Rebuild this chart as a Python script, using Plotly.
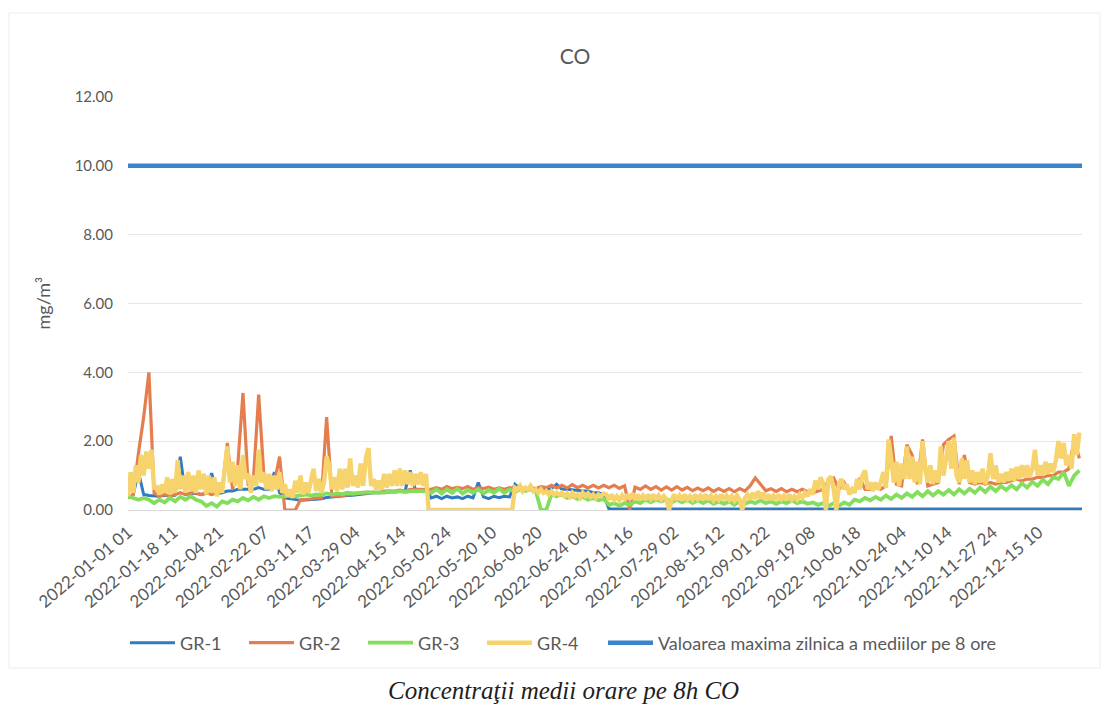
import plotly.graph_objects as go
from datetime import datetime, timedelta

# ---------------- data ----------------
tick_labels = ["2022-01-01 01", "2022-01-18 11", "2022-02-04 21", "2022-02-22 07",
               "2022-03-11 17", "2022-03-29 04", "2022-04-15 14", "2022-05-02 24",
               "2022-05-20 10", "2022-06-06 20", "2022-06-24 06", "2022-07-11 16",
               "2022-07-29 02", "2022-08-15 12", "2022-09-01 22", "2022-09-19 08",
               "2022-10-06 18", "2022-10-24 04", "2022-11-10 14", "2022-11-27 24",
               "2022-12-15 10"]

series_names = ["GR-1", "GR-2", "GR-3", "GR-4",
                "Valoarea maxima zilnica a mediilor pe 8 ore"]

# day offsets from 2022-01-01 01 (daily grid for GR-4, 2-day grid for the others)
days_daily = list(range(0, 365))
days_2d = list(range(0, 365, 2))

gr4 = [
    0.4, 1.1, 0.5, 1.3, 0.8, 1.6, 1.0, 1.7, 1.2, 1.75, 0.6, 0.7, 0.45, 0.75, 0.5, 0.95, 0.45, 0.9, 0.5, 1.45,
    0.6, 1.0, 0.5, 1.1, 0.55, 1.0, 0.5, 1.15, 0.6, 1.05, 0.45, 1.0, 0.5, 0.95, 0.4, 0.8, 0.5, 1.1, 1.85, 0.8,
    1.4, 0.7, 1.3, 0.6, 1.6, 0.9, 1.05, 0.5, 1.0, 0.7, 1.75, 0.8, 1.1, 0.6, 1.05, 0.55, 1.0, 0.6, 1.1, 0.5,
    0.75, 0.4, 0.6, 0.35, 0.85, 0.5, 1.0, 0.45, 0.8, 0.5, 0.9, 1.2, 0.55, 0.9, 0.5, 0.8, 1.55, 1.3, 0.6, 0.95,
    0.55, 1.2, 0.6, 1.2, 0.65, 1.5, 0.7, 1.0, 0.65, 1.35, 0.7, 1.5, 1.8, 0.7, 0.9, 0.6, 0.85, 0.6, 1.05, 0.65,
    1.05, 0.7, 1.15, 0.7, 1.2, 0.7, 1.15, 0.75, 1.1, 0.7, 1.05, 0.75, 1.1, 0.7, 1.05, 0.0, 0.0, 0.0, 0.0, 0.0,
    0.0, 0.0, 0.0, 0.0, 0.0, 0.0, 0.0, 0.0, 0.0, 0.0, 0.0, 0.0, 0.0, 0.0, 0.0, 0.0, 0.0, 0.0, 0.0, 0.0,
    0.0, 0.0, 0.0, 0.0, 0.0, 0.0, 0.0, 0.0, 0.65, 0.6, 0.7, 0.55, 0.65, 0.6, 0.7, 0.55, 0.6, 0.5, 0.6, 0.5,
    0.55, 0.45, 0.55, 0.45, 0.5, 0.45, 0.5, 0.4, 0.48, 0.38, 0.5, 0.4, 0.45, 0.35, 0.5, 0.4, 0.48, 0.38, 0.45, 0.35,
    0.45, 0.4, 0.48, 0.45, 0.3, 0.45, 0.3, 0.4, 0.28, 0.42, 0.3, 0.45, 0.32, 0.48, 0.3, 0.45, 0.3, 0.42, 0.3, 0.45,
    0.32, 0.45, 0.3, 0.42, 0.3, 0.4, 0.3, 0.0, 0.3, 0.45, 0.3, 0.42, 0.28, 0.45, 0.3, 0.4, 0.3, 0.45, 0.32, 0.42,
    0.3, 0.45, 0.3, 0.42, 0.28, 0.4, 0.3, 0.45, 0.3, 0.42, 0.3, 0.4, 0.28, 0.42, 0.3, 0.0, 0.35, 0.45, 0.3, 0.5,
    0.32, 0.55, 0.35, 0.5, 0.3, 0.45, 0.3, 0.42, 0.3, 0.45, 0.32, 0.42, 0.3, 0.45, 0.3, 0.4, 0.3, 0.45, 0.35, 0.5,
    0.4, 0.6, 0.45, 0.85, 0.6, 0.95, 0.75, 0.0, 0.9, 0.97, 0.6, 0.0, 0.75, 0.9, 0.6, 0.75, 0.45, 0.6, 0.5, 0.9,
    0.6, 1.0, 1.15, 0.6, 0.8, 0.55, 0.8, 0.6, 0.8, 1.1, 0.65, 2.05, 1.5, 0.8, 1.4, 0.7, 1.35, 0.9, 1.85, 0.9,
    1.55, 0.8, 1.4, 0.75, 2.0, 1.2, 0.8, 1.3, 0.75, 1.15, 0.8, 1.85, 1.0, 1.6, 2.0, 1.2, 2.1, 1.0, 0.8, 1.5,
    0.9, 1.45, 0.8, 1.15, 0.75, 1.1, 0.8, 1.2, 0.75, 1.0, 1.65, 0.9, 1.3, 0.8, 1.05, 0.8, 1.1, 0.85, 1.2, 0.85,
    1.25, 0.9, 1.3, 0.95, 1.3, 0.95, 1.2, 1.75, 1.0, 1.3, 1.0, 1.4, 1.05, 1.35, 1.1, 1.45, 2.0, 1.5, 1.95, 1.3,
    1.6, 1.2, 2.2, 1.6, 2.25,
]

gr2 = [
    0.35, 0.45, 1.65, 2.7, 4.0, 0.5, 0.4, 0.45, 0.4, 0.45, 0.5, 0.45, 0.5, 0.5, 0.45, 0.5, 0.45, 0.5, 0.55, 1.95,
    0.6, 1.3, 3.4, 0.7, 0.9, 3.35, 1.0, 0.6, 0.8, 1.55, 0.0, 0.0, 0.0, 0.3, 0.3, 0.32, 0.35, 0.35, 2.7, 0.4,
    0.4, 0.42, 0.45, 0.45, 0.48, 0.5, 0.5, 0.52, 0.5, 0.55, 0.55, 0.55, 0.58, 0.55, 0.6, 0.6, 0.62, 0.62, 0.6, 0.65,
    0.6, 0.68, 0.62, 0.66, 0.62, 0.68, 0.6, 0.65, 0.62, 0.66, 0.6, 0.64, 0.6, 0.65, 0.62, 0.66, 0.6, 0.65, 0.62, 0.68,
    0.65, 0.72, 0.64, 0.72, 0.64, 0.74, 0.65, 0.72, 0.64, 0.72, 0.64, 0.72, 0.65, 0.72, 0.63, 0.7, 0.0, 0.66, 0.6, 0.7,
    0.6, 0.68, 0.58, 0.67, 0.58, 0.68, 0.58, 0.66, 0.56, 0.64, 0.56, 0.64, 0.54, 0.62, 0.54, 0.62, 0.53, 0.62, 0.55, 0.7,
    0.93, 0.75, 0.56, 0.62, 0.54, 0.62, 0.53, 0.6, 0.53, 0.6, 0.53, 0.5, 0.55, 0.6, 0.85, 0.93, 0.6, 0.8, 0.55, 0.55,
    0.93, 0.6, 0.6, 0.65, 0.6, 0.7, 2.15, 0.75, 0.7, 1.9, 1.6, 0.75, 2.05, 0.7, 0.75, 0.8, 1.9, 2.05, 2.15, 0.75,
    1.6, 0.8, 0.75, 0.8, 0.75, 0.8, 0.75, 0.8, 0.8, 0.85, 0.9, 0.85, 0.9, 0.9, 0.95, 0.95, 1.0, 1.0, 1.1, 1.1,
    1.2, 2.05, 1.5,
]

gr3 = [
    0.4, 0.35, 0.3, 0.35, 0.3, 0.2, 0.3, 0.22, 0.35, 0.25, 0.38, 0.3, 0.4, 0.3, 0.25, 0.12, 0.2, 0.1, 0.25, 0.2,
    0.3, 0.25, 0.35, 0.28, 0.38, 0.3, 0.4, 0.35, 0.4, 0.38, 0.4, 0.42, 0.4, 0.42, 0.45, 0.42, 0.45, 0.44, 0.48, 0.45,
    0.48, 0.46, 0.5, 0.48, 0.5, 0.5, 0.52, 0.5, 0.52, 0.5, 0.55, 0.52, 0.55, 0.52, 0.55, 0.55, 0.56, 0.55, 0.5, 0.6,
    0.48, 0.6, 0.5, 0.62, 0.48, 0.58, 0.5, 0.6, 0.48, 0.58, 0.5, 0.62, 0.5, 0.6, 0.52, 0.6, 0.55, 0.6, 0.55, 0.0,
    0.0, 0.45, 0.4, 0.45, 0.35, 0.4, 0.32, 0.38, 0.3, 0.35, 0.28, 0.32, 0.15, 0.2, 0.12, 0.2, 0.15, 0.25, 0.2, 0.3,
    0.22, 0.3, 0.25, 0.32, 0.22, 0.3, 0.22, 0.3, 0.2, 0.28, 0.2, 0.28, 0.18, 0.25, 0.18, 0.25, 0.15, 0.25, 0.18, 0.25,
    0.2, 0.28, 0.2, 0.25, 0.18, 0.25, 0.2, 0.28, 0.2, 0.25, 0.18, 0.22, 0.15, 0.2, 0.12, 0.2, 0.12, 0.22, 0.15, 0.3,
    0.25, 0.35, 0.28, 0.38, 0.3, 0.42, 0.32, 0.45, 0.35, 0.48, 0.38, 0.52, 0.4, 0.55, 0.42, 0.55, 0.45, 0.58, 0.45, 0.6,
    0.48, 0.62, 0.5, 0.65, 0.52, 0.68, 0.55, 0.7, 0.58, 0.72, 0.6, 0.78, 0.65, 0.82, 0.7, 0.88, 0.75, 0.95, 0.9, 1.1,
    0.7, 1.0, 1.15,
]

# GR-1: every 2 days up to 2022-07-02, then flat near zero until year end
gr1_days = list(range(0, 184, 2)) + [184, 365]
gr1 = [
    0.35, 0.45, 1.1, 0.45, 0.42, 0.42, 0.4, 0.43, 0.4, 0.43, 1.55, 0.45, 0.48, 0.48, 0.45, 0.48, 1.07, 0.48, 0.5, 0.55,
    0.55, 0.6, 0.6, 0.6, 0.6, 0.65, 0.6, 0.6, 1.1, 0.5, 0.35, 0.33, 0.3, 0.28, 0.29, 0.3, 0.33, 0.33, 0.36, 0.38,
    0.38, 0.4, 0.42, 0.43, 0.45, 0.47, 0.48, 0.5, 0.5, 0.52, 0.52, 0.53, 0.55, 0.55, 1.15, 0.57, 0.58, 0.6, 0.35, 0.4,
    0.33, 0.4, 0.35, 0.38, 0.33, 0.4, 0.35, 0.8, 0.38, 0.33, 0.4, 0.36, 0.4, 0.38, 0.75, 0.62, 0.6, 0.62, 0.6, 0.62,
    0.6, 0.62, 0.75, 0.6, 0.6, 0.58, 0.58, 0.55, 0.55, 0.5, 0.5, 0.45,
    0.03, 0.03,
]

limit_days = [0, 365]
limit_values = [10.0, 10.0]


# tick positions derived from the category labels (hour "24" = end of day)
def label_to_day(lbl):
    d, h = lbl.split(" ")
    t = datetime.strptime(d, "%Y-%m-%d") + timedelta(hours=int(h))
    return (t - datetime(2022, 1, 1, 1)).total_seconds() / 86400.0


tick_vals = [label_to_day(l) for l in tick_labels]

colors = ["#2E7BC4", "#E57E4E", "#84DE5E", "#F6D36C", "#3A84CC"]

fig = go.Figure()
fig.add_trace(go.Scatter(x=gr1_days, y=gr1, mode="lines", name=series_names[0],
                         line=dict(color=colors[0], width=3.0)))
fig.add_trace(go.Scatter(x=days_2d, y=gr2, mode="lines", name=series_names[1],
                         line=dict(color=colors[1], width=3.2)))
fig.add_trace(go.Scatter(x=days_2d, y=gr3, mode="lines", name=series_names[2],
                         line=dict(color=colors[2], width=3.8)))
fig.add_trace(go.Scatter(x=days_daily, y=gr4, mode="lines", name=series_names[3],
                         line=dict(color=colors[3], width=4.4)))
fig.add_trace(go.Scatter(x=limit_days, y=limit_values, mode="lines", name=series_names[4],
                         line=dict(color=colors[4], width=4.5), legend="legend2"))

legend_y = (510 - 643) / 413
fig.update_layout(
    width=1112, height=706,
    margin=dict(l=128, r=30, t=97, b=196),
    paper_bgcolor="white", plot_bgcolor="white",
    font=dict(family="Lato", color="#595959", size=14),
    title=dict(text="CO", x=575 / 1112, xanchor="center", y=1 - 57 / 706, yanchor="middle",
               font=dict(size=21, color="#595959")),
    showlegend=True,
    legend=dict(orientation="h", x=(125 - 128) / 954, xanchor="left", y=legend_y, yanchor="middle",
                font=dict(size=18, color="#595959"), entrywidth=59, entrywidthmode="pixels",
                itemwidth=45),
    legend2=dict(orientation="h", x=(603 - 128) / 954, xanchor="left", y=legend_y, yanchor="middle",
                 font=dict(size=18, color="#595959"), itemwidth=45),
    xaxis=dict(range=[0, 365], tickmode="array", tickvals=tick_vals, ticktext=tick_labels,
               tickangle=-40, showgrid=False, zeroline=False, showline=True,
               linecolor="#d9d9d9", ticks="", tickfont=dict(size=17, color="#595959"),
               ticklabelstandoff=5),
    yaxis=dict(range=[0, 12], tickmode="linear", tick0=0, dtick=2, tickformat=".2f",
               showgrid=True, gridcolor="#e6e6e6", zeroline=False, showline=False, ticks="",
               tickfont=dict(size=15, color="#595959"), ticklabelstandoff=14),
    annotations=[
        dict(text="mg/m³", xref="paper", yref="paper", x=(42 - 128) / 954, y=0.5,
             xanchor="center", yanchor="middle",
             textangle=-90, showarrow=False, font=dict(size=18, color="#595959")),
        dict(text="<i>Concentraţii medii orare pe 8h CO</i>", xref="paper", yref="paper",
             x=(563 - 128) / 954, y=(510 - 690) / 413, xanchor="center", yanchor="middle",
             showarrow=False,
             font=dict(family="Liberation Serif", size=25, color="#1e1e1e")),
    ],
    shapes=[dict(type="rect", xref="paper", yref="paper",
                 x0=(9 - 128) / 954, x1=(1100 - 128) / 954,
                 y0=(510 - 668) / 413, y1=(510 - 13) / 413,
                 line=dict(color="#ececec", width=1))],
)

fig.write_html("out.html", config={"displayModeBar": False},
               post_script="document.body.style.margin='0';")
